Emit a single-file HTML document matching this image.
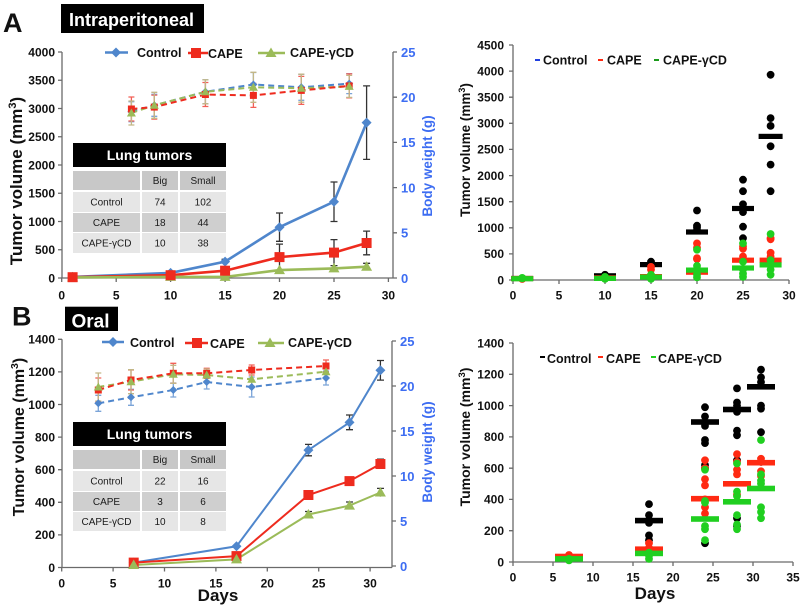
<!DOCTYPE html>
<html><head><meta charset="utf-8">
<style>
html,body{margin:0;padding:0;background:#fff;}
svg{display:block;}
text{font-family:"Liberation Sans",Arial,sans-serif;font-weight:bold;fill:#111;}
.tk{font-size:12px;}
.bt{font-size:13px;fill:#3d6df2;}
.lg{font-size:12.5px;}
.tb{font-size:10px;font-weight:normal;fill:#1a1a1a;}
.ax{stroke:#6a6a6a;stroke-width:1.3;fill:none;}
</style></head>
<body>
<svg width="802" height="607" viewBox="0 0 802 607" xmlns="http://www.w3.org/2000/svg">
<defs>
<path id="dm" d="M0,-5 L5,0 L0,5 L-5,0Z" fill="#4f86cc"/>
<rect id="sq" x="-5" y="-5" width="10" height="10" fill="#ee2b1e"/>
<path id="tr" d="M0,-5.5 L5.5,4 L-5.5,4Z" fill="#9bbb59"/>
<path id="dm2" d="M0,-4 L4,0 L0,4 L-4,0Z" fill="#4f86cc"/>
<rect id="sq2" x="-3.5" y="-3.5" width="7" height="7" fill="#ee2b1e"/>
<path id="tr2" d="M0,-4.5 L4.5,3.5 L-4.5,3.5Z" fill="#9bbb59"/>
<circle id="ck" r="3.9" fill="#000"/>
<circle id="cr" r="3.9" fill="#ff2a12"/>
<circle id="cg" r="3.9" fill="#20cf20"/>
<rect id="bk" x="-11" y="-2.6" width="22" height="5.2" fill="#000"/>
<rect id="br" x="-11" y="-2.6" width="22" height="5.2" fill="#ff2a12"/>
<rect id="bg" x="-11" y="-2.6" width="22" height="5.2" fill="#20cf20"/>
<rect id="bk2" x="-14" y="-2.8" width="28" height="5.6" fill="#000"/>
<rect id="br2" x="-14" y="-2.8" width="28" height="5.6" fill="#ff2a12"/>
<rect id="bg2" x="-14" y="-2.8" width="28" height="5.6" fill="#20cf20"/>
</defs>

<!-- ================= PANEL A LEFT ================= -->
<text x="3" y="32" style="font-size:27px">A</text>
<rect x="61" y="4" width="143" height="29" fill="#000"/>
<text x="69" y="26" style="font-size:18px;fill:#fff">Intraperitoneal</text>

<!-- axes -->
<path class="ax" d="M62,52 V278 H393 M393,52 V278"/>
<path class="ax" d="M58,52H62 M58,80.25H62 M58,108.5H62 M58,136.75H62 M58,165H62 M58,193.25H62 M58,221.5H62 M58,249.75H62 M58,278H62
M61.7,278V282 M116.2,278V282 M170.6,278V282 M225.1,278V282 M279.5,278V282 M334,278V282 M388.4,278V282
M393,52H397 M393,97.2H397 M393,142.4H397 M393,187.6H397 M393,232.8H397 M393,278H397"/>
<g class="tk" text-anchor="end">
<text x="55" y="56.3" class="tk">4000</text>
<text x="55" y="84.5" class="tk">3500</text>
<text x="55" y="112.8" class="tk">3000</text>
<text x="55" y="141" class="tk">2500</text>
<text x="55" y="169.3" class="tk">2000</text>
<text x="55" y="197.5" class="tk">1500</text>
<text x="55" y="225.8" class="tk">1000</text>
<text x="55" y="254" class="tk">500</text>
<text x="55" y="282.3" class="tk">0</text>
</g>
<g text-anchor="middle">
<text x="61.7" y="299.5" class="tk">0</text>
<text x="116.2" y="299.5" class="tk">5</text>
<text x="170.6" y="299.5" class="tk">10</text>
<text x="225.1" y="299.5" class="tk">15</text>
<text x="279.5" y="299.5" class="tk">20</text>
<text x="334" y="299.5" class="tk">25</text>
<text x="388.4" y="299.5" class="tk">30</text>
</g>
<text x="401" y="56.8" class="bt">25</text>
<text x="401" y="102" class="bt">20</text>
<text x="401" y="147.2" class="bt">15</text>
<text x="401" y="192.4" class="bt">10</text>
<text x="401" y="237.6" class="bt">5</text>
<text x="401" y="282.8" class="bt">0</text>

<text transform="translate(22,181) rotate(-90)" text-anchor="middle" style="font-size:17px">Tumor volume (mm<tspan dy="-6" style="font-size:11px">3</tspan><tspan dy="6">)</tspan></text>
<text transform="translate(432,166) rotate(-90)" text-anchor="middle" class="bt" style="font-size:13.5px">Body weight (g)</text>

<!-- table A -->
<rect x="73" y="143" width="153" height="24" fill="#000"/>
<text x="149.5" y="160" text-anchor="middle" style="font-size:14px;fill:#fff">Lung tumors</text>
<rect x="73" y="171" width="67" height="19" fill="#c8c8c8"/><rect x="142" y="171" width="36" height="19" fill="#c8c8c8"/><rect x="180" y="171" width="46" height="19" fill="#c8c8c8"/>
<rect x="73" y="192" width="67" height="20" fill="#e6e6e6"/><rect x="142" y="192" width="36" height="20" fill="#e6e6e6"/><rect x="180" y="192" width="46" height="20" fill="#e6e6e6"/>
<rect x="73" y="213" width="67" height="19" fill="#cfcfcf"/><rect x="142" y="213" width="36" height="19" fill="#cfcfcf"/><rect x="180" y="213" width="46" height="19" fill="#cfcfcf"/>
<rect x="73" y="233" width="67" height="20" fill="#e6e6e6"/><rect x="142" y="233" width="36" height="20" fill="#e6e6e6"/><rect x="180" y="233" width="46" height="20" fill="#e6e6e6"/>
<g text-anchor="middle">
<text x="160" y="184" class="tb">Big</text><text x="203" y="184" class="tb">Small</text>
<text x="106.5" y="205.5" class="tb">Control</text><text x="160" y="205.5" class="tb">74</text><text x="203" y="205.5" class="tb">102</text>
<text x="106.5" y="226" class="tb">CAPE</text><text x="160" y="226" class="tb">18</text><text x="203" y="226" class="tb">44</text>
<text x="106.5" y="246.5" class="tb">CAPE-γCD</text><text x="160" y="246.5" class="tb">10</text><text x="203" y="246.5" class="tb">38</text>
</g>

<!-- legend A -->
<line x1="105" y1="52.5" x2="128" y2="52.5" stroke="#4f86cc" stroke-width="2.5"/><use href="#dm" x="116" y="52.5"/>
<text x="137" y="57" class="lg">Control</text>
<line x1="188" y1="53" x2="208" y2="53" stroke="#ee2b1e" stroke-width="2.5"/><use href="#sq" x="196" y="53"/>
<text x="208" y="58" class="lg">CAPE</text>
<line x1="258" y1="53" x2="285" y2="53" stroke="#9bbb59" stroke-width="2.5"/><use href="#tr" x="271" y="53"/>
<text x="290" y="57" class="lg">CAPE-γCD</text>

<!-- body weight A (dashed) -->
<g stroke-width="1.3" opacity="0.75" fill="none">
<path stroke="#4f86cc" d="M131.4,101.7V121.7M128.4,101.7H134.4M128.4,121.7H134.4 M154.3,94.3V116.3M151.3,94.3H157.3M151.3,116.3H157.3 M205.4,79.8V103.8M202.4,79.8H208.4M202.4,103.8H208.4 M253.4,72.5V96.5M250.4,72.5H256.4M250.4,96.5H256.4 M301.3,74.3V100.3M298.3,74.3H304.3M298.3,100.3H304.3 M349.2,73.6V93.6M346.2,73.6H352.2M346.2,93.6H352.2"/>
<path stroke="#ee2b1e" d="M131.4,97V121M128.4,97H134.4M128.4,121H134.4 M154.3,95.1V119.1M151.3,95.1H157.3M151.3,119.1H157.3 M205.4,82.5V106.5M202.4,82.5H208.4M202.4,106.5H208.4 M253.4,83.4V107.4M250.4,83.4H256.4M250.4,107.4H256.4 M301.3,76.4V104.4M298.3,76.4H304.3M298.3,104.4H304.3 M349.2,73.9V97.9M346.2,73.9H352.2M346.2,97.9H352.2"/>
<path stroke="#b0a060" d="M131.4,101V125M128.4,101H134.4M128.4,125H134.4 M154.3,92.3V118.3M151.3,92.3H157.3M151.3,118.3H157.3 M205.4,79.8V103.8M202.4,79.8H208.4M202.4,103.8H208.4 M253.4,72.3V102.3M250.4,72.3H256.4M250.4,102.3H256.4 M301.3,74.2V102.2M298.3,74.2H304.3M298.3,102.2H304.3 M349.2,75.4V97.4M346.2,75.4H352.2M346.2,97.4H352.2"/>
</g>
<polyline fill="none" stroke="#4f86cc" stroke-width="2" stroke-dasharray="6,4" points="131.4,111.7 154.3,105.3 205.4,91.8 253.4,84.5 301.3,87.3 349.2,83.6"/>
<polyline fill="none" stroke="#9bbb59" stroke-width="2" stroke-dasharray="6,4" points="131.4,113 154.3,105.3 205.4,91.8 253.4,87.3 301.3,88.2 349.2,86.4"/>
<polyline fill="none" stroke="#ee2b1e" stroke-width="2" stroke-dasharray="6,4" points="131.4,109 154.3,107.1 205.4,94.5 253.4,95.4 301.3,90.4 349.2,85.9"/>
<use href="#dm2" x="131.4" y="111.7"/><use href="#dm2" x="154.3" y="105.3"/><use href="#dm2" x="205.4" y="91.8"/><use href="#dm2" x="253.4" y="84.5"/><use href="#dm2" x="301.3" y="87.3"/><use href="#dm2" x="349.2" y="83.6"/>
<use href="#sq2" x="131.4" y="109"/><use href="#sq2" x="154.3" y="107.1"/><use href="#sq2" x="205.4" y="94.5"/><use href="#sq2" x="253.4" y="95.4"/><use href="#sq2" x="301.3" y="90.4"/><use href="#sq2" x="349.2" y="85.9"/>
<use href="#tr2" x="131.4" y="113"/><use href="#tr2" x="154.3" y="105.3"/><use href="#tr2" x="205.4" y="91.8"/><use href="#tr2" x="253.4" y="87.3"/><use href="#tr2" x="301.3" y="88.2"/><use href="#tr2" x="349.2" y="86.4"/>

<!-- tumor volume A -->
<path fill="none" stroke="#333" stroke-width="1.3" d="M225.1,259.3V263.9M221.6,259.3H228.6 M279.5,213V241.3M276,213H283M276,241.3H283 M334,182V221.5M330.5,182H337.5M330.5,221.5H337.5 M366.6,85.9V159.4M363.1,85.9H370.1M363.1,159.4H370.1
M279.5,244.1V270.1M276,244.1H283M276,270.1H283 M334,239.6V265.6M330.5,239.6H337.5M330.5,265.6H337.5 M366.6,231.1V254.8M363.1,231.1H370.1M363.1,254.8H370.1
M366.6,263.3V270.1M363.1,263.3H370.1 M334,265.6V271.2M330.5,265.6H337.5"/>
<polyline fill="none" stroke="#4f86cc" stroke-width="2.6" points="72.6,276.9 170.6,272.9 225.1,261.6 279.5,227.2 334,201.7 366.6,122.6"/>
<polyline fill="none" stroke="#ee2b1e" stroke-width="2.6" points="72.6,277.2 170.6,275.2 225.1,270.7 279.5,257.1 334,252.6 366.6,243"/>
<polyline fill="none" stroke="#9bbb59" stroke-width="2.6" points="72.6,277.4 170.6,276.9 225.1,276.9 279.5,270.1 334,268.4 366.6,266.7"/>
<use href="#dm" x="72.6" y="276.9"/><use href="#dm" x="170.6" y="272.9"/><use href="#dm" x="225.1" y="261.6"/><use href="#dm" x="279.5" y="227.2"/><use href="#dm" x="334" y="201.7"/><use href="#dm" x="366.6" y="122.6"/>
<use href="#tr" x="72.6" y="277.4"/><use href="#tr" x="170.6" y="276.9"/><use href="#tr" x="225.1" y="276.9"/><use href="#tr" x="279.5" y="270.1"/><use href="#tr" x="334" y="268.4"/><use href="#tr" x="366.6" y="266.7"/>
<use href="#sq" x="72.6" y="277.2"/><use href="#sq" x="170.6" y="275.2"/><use href="#sq" x="225.1" y="270.7"/><use href="#sq" x="279.5" y="257.1"/><use href="#sq" x="334" y="252.6"/><use href="#sq" x="366.6" y="243"/>

<!-- ================= PANEL A RIGHT ================= -->
<path class="ax" d="M513,45 V280 H789 M509,45H513 M509,71.1H513 M509,97.2H513 M509,123.3H513 M509,149.4H513 M509,175.6H513 M509,201.7H513 M509,227.8H513 M509,253.9H513 M509,280H513
M513,280V284 M559,280V284 M605,280V284 M651,280V284 M697,280V284 M743,280V284 M789,280V284"/>
<g text-anchor="end">
<text x="504" y="49.3" class="tk">4500</text>
<text x="504" y="75.4" class="tk">4000</text>
<text x="504" y="101.5" class="tk">3500</text>
<text x="504" y="127.6" class="tk">3000</text>
<text x="504" y="153.7" class="tk">2500</text>
<text x="504" y="179.9" class="tk">2000</text>
<text x="504" y="206" class="tk">1500</text>
<text x="504" y="232.1" class="tk">1000</text>
<text x="504" y="258.2" class="tk">500</text>
<text x="504" y="284.3" class="tk">0</text>
</g>
<g text-anchor="middle">
<text x="513" y="299.5" class="tk">0</text>
<text x="559" y="299.5" class="tk">5</text>
<text x="605" y="299.5" class="tk">10</text>
<text x="651" y="299.5" class="tk">15</text>
<text x="697" y="299.5" class="tk">20</text>
<text x="743" y="299.5" class="tk">25</text>
<text x="789" y="299.5" class="tk">30</text>
</g>
<text transform="translate(470,150) rotate(-90)" text-anchor="middle" style="font-size:13.5px">Tumor volume (mm<tspan dy="-5" style="font-size:9px">3</tspan><tspan dy="5">)</tspan></text>

<line x1="535" y1="60" x2="540" y2="60" stroke="#2040e0" stroke-width="2"/>
<text x="543" y="64.5" class="lg">Control</text>
<line x1="598" y1="60" x2="603" y2="60" stroke="#ff2a12" stroke-width="2"/>
<text x="607" y="64.5" class="lg">CAPE</text>
<line x1="654" y1="60" x2="659" y2="60" stroke="#1a9a1a" stroke-width="2"/>
<text x="663" y="64.5" class="lg">CAPE-γCD</text>

<!-- black -->
<use href="#ck" x="522.2" y="278.4"/>
<use href="#ck" x="605" y="274.8"/><use href="#ck" x="605" y="276.9"/>
<use href="#ck" x="651" y="261.7"/><use href="#ck" x="651" y="264.3"/>
<use href="#ck" x="697" y="210.5"/><use href="#ck" x="697" y="225.7"/><use href="#ck" x="697" y="227.8"/><use href="#ck" x="697" y="230.4"/>
<use href="#ck" x="743" y="179.7"/><use href="#ck" x="743" y="191.2"/><use href="#ck" x="743" y="204.3"/><use href="#ck" x="743" y="212.1"/><use href="#ck" x="743" y="226.7"/><use href="#ck" x="743" y="238.2"/>
<use href="#ck" x="770.6" y="74.8"/><use href="#ck" x="770.6" y="118.1"/><use href="#ck" x="770.6" y="125.9"/><use href="#ck" x="770.6" y="146.3"/><use href="#ck" x="770.6" y="164.6"/><use href="#ck" x="770.6" y="191.2"/>
<use href="#bk" x="522.2" y="278.5"/><use href="#bk" x="605" y="275.8"/><use href="#bk" x="651" y="264.6"/><use href="#bk" x="697" y="232"/><use href="#bk" x="743" y="208.5"/><rect x="758.6" y="133.8" width="24" height="5.2" fill="#000"/>
<!-- red -->
<use href="#cr" x="522.2" y="279"/>
<use href="#cr" x="605" y="277.4"/><use href="#cr" x="605" y="278.4"/>
<use href="#cr" x="651" y="266.9"/><use href="#cr" x="651" y="269.6"/>
<use href="#cr" x="697" y="243.4"/><use href="#cr" x="697" y="247.6"/><use href="#cr" x="697" y="258.1"/><use href="#cr" x="697" y="259.1"/>
<use href="#cr" x="743" y="246.1"/><use href="#cr" x="743" y="248.7"/><use href="#cr" x="743" y="256.5"/>
<use href="#cr" x="770.6" y="238.2"/><use href="#cr" x="770.6" y="239.3"/><use href="#cr" x="770.6" y="252.8"/><use href="#cr" x="770.6" y="256.5"/>
<use href="#br" x="522.2" y="278.5"/><use href="#br" x="605" y="277.9"/><use href="#br" x="651" y="276.6"/><use href="#br" x="697" y="272.2"/><use href="#br" x="743" y="260.2"/><use href="#br" x="770.6" y="260.2"/>
<!-- green -->
<use href="#cg" x="522.2" y="277.9"/><use href="#cg" x="522.2" y="278.4"/>
<use href="#cg" x="605" y="276.9"/><use href="#cg" x="605" y="278.9"/>
<use href="#cg" x="651" y="274.8"/><use href="#cg" x="651" y="277.4"/><use href="#cg" x="651" y="278.9"/>
<use href="#cg" x="697" y="249.7"/><use href="#cg" x="697" y="265.9"/><use href="#cg" x="697" y="269.6"/><use href="#cg" x="697" y="274.8"/><use href="#cg" x="697" y="277.4"/>
<use href="#cg" x="743" y="243.4"/><use href="#cg" x="743" y="261.7"/><use href="#cg" x="743" y="269.6"/><use href="#cg" x="743" y="273.7"/><use href="#cg" x="743" y="276.9"/>
<use href="#cg" x="770.6" y="234"/><use href="#cg" x="770.6" y="260.2"/><use href="#cg" x="770.6" y="269.6"/><use href="#cg" x="770.6" y="274.8"/>
<use href="#bg" x="522.2" y="278.7"/><use href="#bg" x="605" y="278.4"/><use href="#bg" x="651" y="277.1"/><use href="#bg" x="697" y="270.1"/><use href="#bg" x="743" y="268"/><use href="#bg" x="770.6" y="264.9"/>

<!-- ================= PANEL B LEFT ================= -->
<text x="12" y="325.5" style="font-size:27px">B</text>
<rect x="65" y="306.7" width="53" height="24.3" fill="#000"/>
<text x="71.5" y="327.5" style="font-size:19px;fill:#fff">Oral</text>

<path class="ax" d="M62,339.3 V567.5 H392 M392,341 V567.5"/>
<path class="ax" d="M58,339.3H62 M58,371.9H62 M58,404.5H62 M58,437.1H62 M58,469.7H62 M58,502.3H62 M58,534.9H62 M58,567.5H62
M61.7,567.5V571.5 M113.1,567.5V571.5 M164.5,567.5V571.5 M215.9,567.5V571.5 M267.3,567.5V571.5 M318.7,567.5V571.5 M370.1,567.5V571.5
M392,341H396 M392,386H396 M392,431H396 M392,476H396 M392,521H396 M392,566H396"/>
<g text-anchor="end">
<text x="55" y="343.6" class="tk">1400</text>
<text x="55" y="376.2" class="tk">1200</text>
<text x="55" y="408.8" class="tk">1000</text>
<text x="55" y="441.4" class="tk">800</text>
<text x="55" y="474" class="tk">600</text>
<text x="55" y="506.6" class="tk">400</text>
<text x="55" y="539.2" class="tk">200</text>
<text x="55" y="571.8" class="tk">0</text>
</g>
<g text-anchor="middle">
<text x="61.7" y="587.5" class="tk">0</text>
<text x="113.1" y="587.5" class="tk">5</text>
<text x="164.5" y="587.5" class="tk">10</text>
<text x="215.9" y="587.5" class="tk">15</text>
<text x="267.3" y="587.5" class="tk">20</text>
<text x="318.7" y="587.5" class="tk">25</text>
<text x="370.1" y="587.5" class="tk">30</text>
</g>
<text x="400" y="345.8" class="bt">25</text>
<text x="400" y="390.8" class="bt">20</text>
<text x="400" y="435.8" class="bt">15</text>
<text x="400" y="480.8" class="bt">10</text>
<text x="400" y="525.8" class="bt">5</text>
<text x="400" y="570.8" class="bt">0</text>
<text x="218" y="601" text-anchor="middle" style="font-size:17px">Days</text>

<text transform="translate(24,437) rotate(-90)" text-anchor="middle" style="font-size:16px">Tumor volume (mm<tspan dy="-6" style="font-size:10.5px">3</tspan><tspan dy="6">)</tspan></text>
<text transform="translate(432,452) rotate(-90)" text-anchor="middle" class="bt" style="font-size:13.5px">Body weight (g)</text>

<!-- table B -->
<rect x="73" y="422" width="153" height="24" fill="#000"/>
<text x="149.5" y="439" text-anchor="middle" style="font-size:14px;fill:#fff">Lung tumors</text>
<rect x="73" y="450" width="67" height="19" fill="#c8c8c8"/><rect x="142" y="450" width="36" height="19" fill="#c8c8c8"/><rect x="180" y="450" width="46" height="19" fill="#c8c8c8"/>
<rect x="73" y="471" width="67" height="20" fill="#e6e6e6"/><rect x="142" y="471" width="36" height="20" fill="#e6e6e6"/><rect x="180" y="471" width="46" height="20" fill="#e6e6e6"/>
<rect x="73" y="492" width="67" height="19" fill="#cfcfcf"/><rect x="142" y="492" width="36" height="19" fill="#cfcfcf"/><rect x="180" y="492" width="46" height="19" fill="#cfcfcf"/>
<rect x="73" y="512" width="67" height="19" fill="#e6e6e6"/><rect x="142" y="512" width="36" height="19" fill="#e6e6e6"/><rect x="180" y="512" width="46" height="19" fill="#e6e6e6"/>
<g text-anchor="middle">
<text x="160" y="463" class="tb">Big</text><text x="203" y="463" class="tb">Small</text>
<text x="106.5" y="484.5" class="tb">Control</text><text x="160" y="484.5" class="tb">22</text><text x="203" y="484.5" class="tb">16</text>
<text x="106.5" y="505" class="tb">CAPE</text><text x="160" y="505" class="tb">3</text><text x="203" y="505" class="tb">6</text>
<text x="106.5" y="525" class="tb">CAPE-γCD</text><text x="160" y="525" class="tb">10</text><text x="203" y="525" class="tb">8</text>
</g>

<!-- legend B -->
<line x1="102" y1="342" x2="124" y2="342" stroke="#4f86cc" stroke-width="2.5"/><use href="#dm" x="113" y="342"/>
<text x="130" y="347" class="lg">Control</text>
<line x1="185" y1="343" x2="208" y2="343" stroke="#ee2b1e" stroke-width="2.5"/><use href="#sq" x="197" y="343"/>
<text x="210" y="348" class="lg">CAPE</text>
<line x1="258" y1="343" x2="284" y2="343" stroke="#9bbb59" stroke-width="2.5"/><use href="#tr" x="270" y="343"/>
<text x="288" y="347" class="lg">CAPE-γCD</text>

<!-- body weight B -->
<g stroke-width="1.3" opacity="0.75" fill="none">
<path stroke="#4f86cc" d="M98.3,395.3V411.3M95.3,395.3H101.3M95.3,411.3H101.3 M131,389.3V405.3M128,389.3H134M128,405.3H134 M173.3,383V397M170.3,383H176.3M170.3,397H176.3 M206.7,375V389M203.7,375H209.7M203.7,389H209.7 M251.7,377V397M248.7,377H254.7M248.7,397H254.7 M326,371V385M323,371H329M323,385H329"/>
<path stroke="#ee2b1e" d="M98.3,378V402M95.3,378H101.3M95.3,402H101.3 M131,370V390M128,370H134M128,390H134 M173.3,363.3V383.3M170.3,363.3H176.3M170.3,383.3H176.3 M206.7,368.3V378.3M203.7,368.3H209.7M203.7,378.3H209.7 M251.7,365V375M248.7,365H254.7M248.7,375H254.7 M326,360V372M323,360H329M323,372H329"/>
<path stroke="#b0a060" d="M98.3,373V401M95.3,373H101.3M95.3,401H101.3 M131,369.7V393.7M128,369.7H134M128,393.7H134 M173.3,365.3V383.3M170.3,365.3H176.3M170.3,383.3H176.3 M206.7,369V381M203.7,369H209.7M203.7,381H209.7 M251.7,372.3V386.3M248.7,372.3H254.7M248.7,386.3H254.7 M326,365.7V377.7M323,365.7H329M323,377.7H329"/>
</g>
<polyline fill="none" stroke="#4f86cc" stroke-width="2" stroke-dasharray="6,4" points="98.3,403.3 131,397.3 173.3,390 206.7,382 251.7,387 326,378"/>
<polyline fill="none" stroke="#9bbb59" stroke-width="2" stroke-dasharray="6,4" points="98.3,387 131,381.7 173.3,374.3 206.7,375 251.7,379.3 326,371.7"/>
<polyline fill="none" stroke="#ee2b1e" stroke-width="2" stroke-dasharray="6,4" points="98.3,390 131,380 173.3,373.3 206.7,373.3 251.7,370 326,366"/>
<use href="#dm2" x="98.3" y="403.3"/><use href="#dm2" x="131" y="397.3"/><use href="#dm2" x="173.3" y="390"/><use href="#dm2" x="206.7" y="382"/><use href="#dm2" x="251.7" y="387"/><use href="#dm2" x="326" y="378"/>
<use href="#sq2" x="98.3" y="390"/><use href="#sq2" x="131" y="380"/><use href="#sq2" x="173.3" y="373.3"/><use href="#sq2" x="206.7" y="373.3"/><use href="#sq2" x="251.7" y="370"/><use href="#sq2" x="326" y="366"/>
<use href="#tr2" x="98.3" y="387"/><use href="#tr2" x="131" y="381.7"/><use href="#tr2" x="173.3" y="374.3"/><use href="#tr2" x="206.7" y="375"/><use href="#tr2" x="251.7" y="379.3"/><use href="#tr2" x="326" y="371.7"/>

<!-- tumor volume B -->
<path fill="none" stroke="#333" stroke-width="1.3" d="M308.4,444.4V455.8M305,444.4H312M305,455.8H312 M349.5,415V429.7M346,415H353M346,429.7H353 M380.4,360.5V380.1M377,360.5H384M377,380.1H384
M349.5,477.8V484.4M346,477.8H353 M380.4,459.1V468.9M377,459.1H384 M308.4,492V498M305,492H312
M308.4,511.5V517.5M305,511.5H312 M349.5,502V509.2M346,502H353 M380.4,488.4V496.6M377,488.4H384"/>
<polyline fill="none" stroke="#4f86cc" stroke-width="2" points="133.7,562.6 236.5,546.3 308.4,450.1 349.5,422.4 380.4,370.3"/>
<polyline fill="none" stroke="#ee2b1e" stroke-width="2" points="133.7,562.6 236.5,556.1 308.4,495 349.5,481.1 380.4,464"/>
<polyline fill="none" stroke="#9bbb59" stroke-width="2" points="133.7,565 236.5,559.4 308.4,514.5 349.5,505.6 380.4,492.5"/>
<use href="#dm" x="133.7" y="562.6"/><use href="#dm" x="236.5" y="546.3"/><use href="#dm" x="308.4" y="450.1"/><use href="#dm" x="349.5" y="422.4"/><use href="#dm" x="380.4" y="370.3"/>
<use href="#sq" x="133.7" y="562.6"/><use href="#sq" x="236.5" y="556.1"/><use href="#sq" x="308.4" y="495"/><use href="#sq" x="349.5" y="481.1"/><use href="#sq" x="380.4" y="464"/>
<use href="#tr" x="133.7" y="565"/><use href="#tr" x="236.5" y="559.4"/><use href="#tr" x="308.4" y="514.5"/><use href="#tr" x="349.5" y="505.6"/><use href="#tr" x="380.4" y="492.5"/>

<!-- ================= PANEL B RIGHT ================= -->
<path class="ax" d="M513,343 V562 H793 M509,343H513 M509,374.3H513 M509,405.6H513 M509,436.9H513 M509,468.2H513 M509,499.4H513 M509,530.7H513 M509,562H513
M513,562V566 M553,562V566 M593,562V566 M633,562V566 M673,562V566 M713,562V566 M753,562V566 M793,562V566"/>
<g text-anchor="end">
<text x="504" y="347.3" class="tk">1400</text>
<text x="504" y="378.6" class="tk">1200</text>
<text x="504" y="409.9" class="tk">1000</text>
<text x="504" y="441.2" class="tk">800</text>
<text x="504" y="472.5" class="tk">600</text>
<text x="504" y="503.7" class="tk">400</text>
<text x="504" y="535" class="tk">200</text>
<text x="504" y="566.3" class="tk">0</text>
</g>
<g text-anchor="middle">
<text x="513" y="581.5" class="tk">0</text>
<text x="553" y="581.5" class="tk">5</text>
<text x="593" y="581.5" class="tk">10</text>
<text x="633" y="581.5" class="tk">15</text>
<text x="673" y="581.5" class="tk">20</text>
<text x="713" y="581.5" class="tk">25</text>
<text x="753" y="581.5" class="tk">30</text>
<text x="793" y="581.5" class="tk">35</text>
</g>
<text x="655" y="599" text-anchor="middle" style="font-size:17px">Days</text>
<text transform="translate(470,437) rotate(-90)" text-anchor="middle" style="font-size:14px">Tumor volume (mm<tspan dy="-5" style="font-size:9.5px">3</tspan><tspan dy="5">)</tspan></text>

<line x1="540" y1="357" x2="545" y2="357" stroke="#000" stroke-width="2"/>
<text x="547" y="363" class="lg">Control</text>
<line x1="598" y1="357" x2="603" y2="357" stroke="#ff2a12" stroke-width="2"/>
<text x="606" y="363" class="lg">CAPE</text>
<line x1="651" y1="357" x2="656" y2="357" stroke="#20cf20" stroke-width="2"/>
<text x="658" y="363" class="lg">CAPE-γCD</text>

<!-- black -->
<use href="#ck" x="649" y="504.1"/><use href="#ck" x="649" y="515.1"/><use href="#ck" x="649" y="519.8"/><use href="#ck" x="649" y="522.9"/><use href="#ck" x="649" y="535.4"/><use href="#ck" x="649" y="540.1"/>
<use href="#ck" x="705" y="407.2"/><use href="#ck" x="705" y="416.5"/><use href="#ck" x="705" y="422.8"/><use href="#ck" x="705" y="425.9"/><use href="#ck" x="705" y="440"/><use href="#ck" x="705" y="443.1"/><use href="#ck" x="705" y="465"/><use href="#ck" x="705" y="468.2"/><use href="#ck" x="705" y="543.2"/>
<use href="#ck" x="737" y="388.4"/><use href="#ck" x="737" y="402.5"/><use href="#ck" x="737" y="405.6"/><use href="#ck" x="737" y="411.9"/><use href="#ck" x="737" y="430.6"/><use href="#ck" x="737" y="435.3"/><use href="#ck" x="737" y="460.3"/><use href="#ck" x="737" y="518.2"/><use href="#ck" x="737" y="526"/>
<use href="#ck" x="761" y="369.6"/><use href="#ck" x="761" y="377.4"/><use href="#ck" x="761" y="382.1"/><use href="#ck" x="761" y="405.6"/><use href="#ck" x="761" y="408.7"/><use href="#ck" x="761" y="432.2"/><use href="#ck" x="761" y="461.9"/>
<use href="#bk2" x="649" y="520.6"/><use href="#bk2" x="705" y="422"/><use href="#bk2" x="737" y="409.5"/><use href="#bk2" x="761" y="386.8"/>
<!-- red -->
<use href="#cr" x="569" y="555"/><use href="#cr" x="569" y="557.3"/>
<use href="#cr" x="649" y="543.2"/><use href="#cr" x="649" y="547.9"/><use href="#cr" x="649" y="551"/>
<use href="#cr" x="705" y="460.3"/><use href="#cr" x="705" y="468.2"/><use href="#cr" x="705" y="479.1"/><use href="#cr" x="705" y="485.4"/><use href="#cr" x="705" y="499.4"/><use href="#cr" x="705" y="507.3"/><use href="#cr" x="705" y="513.5"/>
<use href="#cr" x="737" y="454.1"/><use href="#cr" x="737" y="461.9"/><use href="#cr" x="737" y="469.7"/><use href="#cr" x="737" y="474.4"/><use href="#cr" x="737" y="494.7"/>
<use href="#cr" x="761" y="458.8"/><use href="#cr" x="761" y="461.9"/><use href="#cr" x="761" y="471.3"/><use href="#cr" x="761" y="476"/>
<use href="#br2" x="569" y="556.5"/><use href="#br2" x="649" y="549.2"/><use href="#br2" x="705" y="498.7"/><use href="#br2" x="737" y="483.8"/><use href="#br2" x="761" y="462.7"/>
<!-- green -->
<use href="#cg" x="569" y="558.9"/><use href="#cg" x="569" y="560.4"/>
<use href="#cg" x="649" y="552.6"/><use href="#cg" x="649" y="555.7"/><use href="#cg" x="649" y="558.9"/>
<use href="#cg" x="705" y="469.7"/><use href="#cg" x="705" y="501"/><use href="#cg" x="705" y="502.6"/><use href="#cg" x="705" y="526"/><use href="#cg" x="705" y="529.2"/><use href="#cg" x="705" y="540.1"/>
<use href="#cg" x="737" y="463.5"/><use href="#cg" x="737" y="491.6"/><use href="#cg" x="737" y="496.3"/><use href="#cg" x="737" y="515.1"/><use href="#cg" x="737" y="524.5"/><use href="#cg" x="737" y="529.2"/>
<use href="#cg" x="761" y="440"/><use href="#cg" x="761" y="474.4"/><use href="#cg" x="761" y="480.7"/><use href="#cg" x="761" y="483.8"/><use href="#cg" x="761" y="507.3"/><use href="#cg" x="761" y="512"/><use href="#cg" x="761" y="518.2"/>
<use href="#bg2" x="569" y="558.9"/><use href="#bg2" x="649" y="553.4"/><use href="#bg2" x="705" y="519"/><use href="#bg2" x="737" y="501.8"/><use href="#bg2" x="761" y="488.5"/>
</svg>
</body></html>
